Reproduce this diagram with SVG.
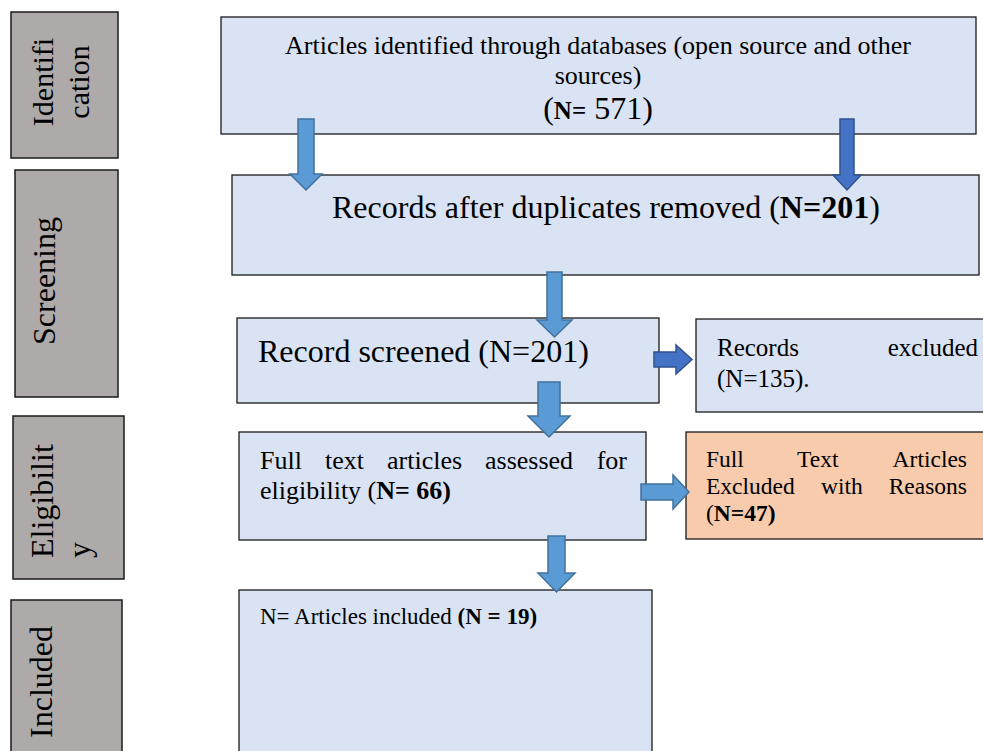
<svg xmlns="http://www.w3.org/2000/svg" width="983" height="751" viewBox="0 0 983 751">
<style>
text{font-family:"Liberation Serif","Times New Roman",serif;fill:#000}
.side{fill:#aeaaaa;stroke:#1a1a1a;stroke-width:1.5}
.box{fill:#dae3f3;stroke:#1a1a1a;stroke-width:1.3}
.exc{fill:#f8cbad;stroke:#1a1a1a;stroke-width:1.3}
.al{fill:#5b9bd5;stroke:#41719c;stroke-width:1.5;stroke-linejoin:miter}
.ad{fill:#4472c4;stroke:#2f528f;stroke-width:1.5;stroke-linejoin:miter}
.b{font-weight:bold}
</style>
<rect width="983" height="751" fill="#fff"/>
<g id="stage-identification">
<rect class="side" x="11" y="12" width="107" height="146"/>
<text font-size="30" text-anchor="middle" transform="translate(53,82) rotate(-90)">Identifi</text>
<text font-size="30" text-anchor="middle" transform="translate(89,82) rotate(-90)">cation</text>
</g>
<g id="stage-screening">
<rect class="side" x="15" y="170" width="103" height="227"/>
<text font-size="32" text-anchor="middle" transform="translate(55,281) rotate(-90)">Screening</text>
</g>
<g id="stage-eligibility">
<rect class="side" x="13" y="416" width="111" height="163"/>
<text font-size="32" transform="translate(53,558) rotate(-90)">Eligibilit</text>
<text font-size="32" transform="translate(90,558) rotate(-90)">y</text>
</g>
<g id="stage-included">
<rect class="side" x="11" y="600" width="111" height="170"/>
<text font-size="32" text-anchor="middle" transform="translate(52,682) rotate(-90)">Included</text>
</g>
<g id="node-identified">
<rect class="box" x="221" y="17" width="755" height="117"/>
<text font-size="26" x="598" y="54" text-anchor="middle">Articles identified through databases (open source and other</text>
<text font-size="26" x="598" y="84" text-anchor="middle">sources)</text>
<text x="598" y="119" text-anchor="middle"><tspan font-size="32">(</tspan><tspan font-size="25" class="b">N=</tspan><tspan font-size="32"> 571)</tspan></text>
</g>
<g id="node-dedup">
<rect class="box" x="232" y="175" width="747" height="100"/>
<text font-size="32" x="332" y="218">Records after duplicates removed (<tspan class="b">N=201</tspan>)</text>
</g>
<g id="node-screened">
<rect class="box" x="237" y="318" width="422" height="85"/>
<text font-size="32" x="258" y="362">Record screened (N=201)</text>
</g>
<g id="node-excluded">
<rect class="box" x="696" y="319" width="300" height="93"/>
<text font-size="25" x="717" y="356">Records</text>
<text font-size="25" x="978" y="356" text-anchor="end">excluded</text>
<text font-size="25" x="717" y="387">(N=135).</text>
</g>
<g id="node-fulltext">
<rect class="box" x="239" y="432" width="407" height="108"/>
<text font-size="26" x="260" y="469">Full</text>
<text font-size="26" x="325" y="469">text</text>
<text font-size="26" x="387" y="469">articles</text>
<text font-size="26" x="485" y="469">assessed</text>
<text font-size="26" x="627" y="469" text-anchor="end">for</text>
<text font-size="26" x="260" y="499">eligibility (<tspan class="b">N= 66)</tspan></text>
</g>
<g id="node-fulltext-excluded">
<rect class="exc" x="686" y="432" width="310" height="107"/>
<text font-size="23.5" x="706" y="467">Full</text>
<text font-size="23.5" x="797" y="467">Text</text>
<text font-size="23.5" x="967" y="467" text-anchor="end">Articles</text>
<text font-size="23.5" x="706" y="494">Excluded</text>
<text font-size="23.5" x="821" y="494">with</text>
<text font-size="23.5" x="967" y="494" text-anchor="end">Reasons</text>
<text font-size="23.5" x="706" y="521">(<tspan class="b">N=47)</tspan></text>
</g>
<g id="node-included">
<rect class="box" x="239" y="590" width="413" height="180"/>
<text font-size="23" x="260" y="624">N= Articles included <tspan class="b">(N = 19)</tspan></text>
</g>
<g id="connectors">
<path class="al" d="M298,119 H314 V174 H322 L306,190 L290,174 H298 Z"/>
<path class="ad" d="M840,119 H854 V175 H861 L847,190 L833,175 H840 Z"/>
<path class="al" d="M547,272 H562 V320 H572 L554.5,337 L537,320 H547 Z"/>
<path class="ad" d="M654,352 H676 V345 L692,359.5 L676,374 V367 H654 Z"/>
<path class="al" d="M538,382 H560 V416 H570 L549,437 L528,416 H538 Z"/>
<path class="al" d="M641,484 H673 V475 L689,492 L673,509 V500 H641 Z"/>
<path class="al" d="M548,536 H565 V573 H575 L556.5,592 L538,573 H548 Z"/>
</g>
</svg>
